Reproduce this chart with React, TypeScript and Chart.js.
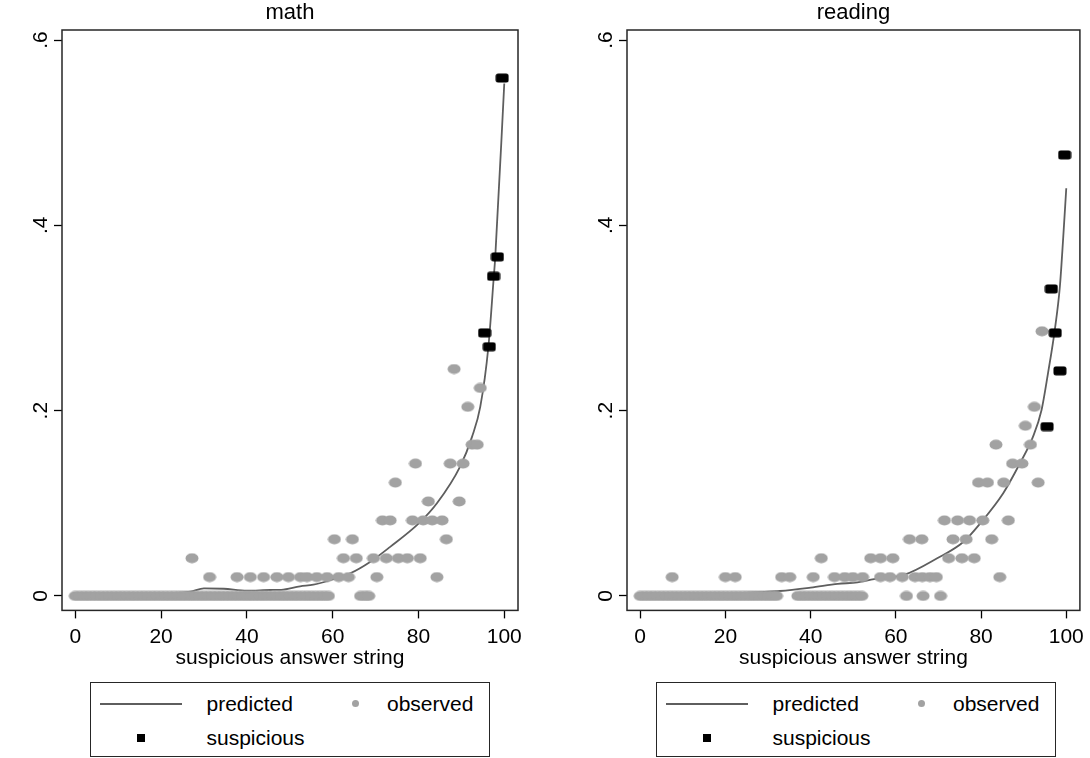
import React, { useEffect, useRef } from 'react';
import { Chart, registerables } from 'chart.js';

Chart.register(...registerables);

// ---------- data ----------
const xTickValues = [0, 20, 40, 60, 80, 100];
const xTickLabels = ['0', '20', '40', '60', '80', '100'];
const yTickValues = [0, 0.2, 0.4, 0.6];
const yTickLabels = ['0', '.2', '.4', '.6'];
const xAxisTitle = 'suspicious answer string';
const panelTitles = ['math', 'reading'];
const legendLabels = ['predicted', 'observed', 'suspicious'];

// math: predicted curve
const mathPredictedX = [0, 10, 20, 26.8, 30, 34.6, 40, 45.5, 48, 52.4, 55.5, 60, 64.1, 68.8, 73.4, 80, 84.3, 89.7, 92.5, 94.4, 96.3, 97.5, 97.9, 100];
const mathPredictedY = [0.0005, 0.001, 0.0025, 0.0046, 0.0083, 0.0078, 0.0057, 0.0065, 0.0067, 0.0105, 0.0122, 0.018, 0.0245, 0.037, 0.053, 0.078, 0.1, 0.1396, 0.172, 0.204, 0.269, 0.341, 0.366, 0.553];

// math: observed, grouped by level
const mathObsLevels = [0, 0.0204, 0.0408, 0.0612, 0.0816, 0.102, 0.1224, 0.1429, 0.1633, 0.2041, 0.2245, 0.2449];
const mathObsXs = [
  [0, 1, 2, 3, 4, 5, 6, 7, 8, 9, 10, 11, 12, 13, 14, 15, 16, 17, 18, 19, 20, 21, 22, 23, 24, 25, 26, 27, 28, 29, 30, 31, 32, 33, 34, 35, 36, 37, 38, 39, 40, 41, 42, 43, 44, 45, 46, 47, 48, 49, 50, 51, 52, 53, 54, 55, 56, 57, 58, 59, 66.5, 67.5, 68.4],
  [31.3, 37.7, 40.8, 43.9, 47, 49.7, 52.5, 54, 56.3, 58.7, 61.4, 63.7, 70.3, 84.3],
  [27.2, 62.5, 65.5, 69.5, 72.5, 75.3, 77.4, 80.4],
  [60.4, 64.6, 86.5],
  [71.6, 73.4, 78.6, 81.1, 83.2, 85.5],
  [82.3, 89.5],
  [74.6],
  [79.3, 87.4, 90.4],
  [92.5, 93.7],
  [91.5],
  [94.4],
  [88.3],
];

// math: suspicious
const mathSuspiciousX = [95.4, 96.5, 97.5, 98.4, 99.5];
const mathSuspiciousY = [0.284, 0.269, 0.345, 0.366, 0.559];

// reading: predicted curve
const readingPredictedX = [0, 10, 20, 32.8, 40, 46.4, 51, 54.9, 61.9, 69.7, 75.9, 79.8, 85.2, 89.1, 92.2, 94.2, 95.7, 97.3, 98.5, 99.3, 100];
const readingPredictedY = [0.0005, 0.0012, 0.0025, 0.0054, 0.009, 0.013, 0.0148, 0.0183, 0.0227, 0.0407, 0.0586, 0.0784, 0.111, 0.143, 0.172, 0.2008, 0.24, 0.287, 0.334, 0.388, 0.44];

// reading: observed, grouped by level
const readingObsLevels = [0, 0.0204, 0.0408, 0.0612, 0.0816, 0.1224, 0.1429, 0.1633, 0.1837, 0.2041, 0.2857];
const readingObsXs = [
  [0, 1, 2, 3, 4, 5, 6, 7, 8, 9, 10, 11, 12, 13, 14, 15, 16, 17, 18, 19, 20, 21, 22, 23, 24, 25, 26, 27, 28, 29, 30, 31, 32, 37, 38, 39, 40, 41, 42, 43, 44, 45, 46, 47, 48, 49, 50, 51, 52, 62.5, 66.4, 70.5],
  [7.5, 20, 22.3, 33.2, 35.1, 40.6, 45.6, 48, 49.9, 52.2, 56.4, 58.6, 61.5, 64.5, 66.2, 68, 69.5, 84.4],
  [42.5, 54.1, 56.4, 59.3, 72.4, 75.5, 78.4],
  [63.2, 66.1, 73.4, 76.5, 82.5],
  [71.4, 74.5, 77.3, 80.4, 86.4],
  [79.4, 81.5, 85.3, 93.4],
  [87.4, 89.6],
  [83.5, 91.6],
  [90.4],
  [92.5],
  [94.3],
];

// reading: suspicious
const readingSuspiciousX = [95.5, 96.5, 97.4, 98.5, 99.6];
const readingSuspiciousY = [0.1828, 0.3314, 0.284, 0.243, 0.476];

// ---------- styling ----------
const FONT = '"Liberation Sans", Arial, Helvetica, sans-serif';
const LINE_COLOR = '#5e5e5e';
const DOT_COLOR = '#a2a2a2';
const FRAME_COLOR = '#262626';

function makeDot(): HTMLCanvasElement {
  const c = document.createElement('canvas');
  c.width = 14; c.height = 11;
  const g = c.getContext('2d')!;
  g.fillStyle = DOT_COLOR;
  g.beginPath();
  g.ellipse(7, 5.5, 6.5, 5, 0, 0, Math.PI * 2);
  g.fill();
  return c;
}

function makeSquare(): HTMLCanvasElement {
  const c = document.createElement('canvas');
  c.width = 14; c.height = 10;
  const g = c.getContext('2d')!;
  g.fillStyle = '#000';
  g.beginPath();
  const r = 2.5, w = 13, h = 9, x0 = 0.5, y0 = 0.5;
  g.moveTo(x0 + r, y0);
  g.lineTo(x0 + w - r, y0); g.quadraticCurveTo(x0 + w, y0, x0 + w, y0 + r);
  g.lineTo(x0 + w, y0 + h - r); g.quadraticCurveTo(x0 + w, y0 + h, x0 + w - r, y0 + h);
  g.lineTo(x0 + r, y0 + h); g.quadraticCurveTo(x0, y0 + h, x0, y0 + h - r);
  g.lineTo(x0, y0 + r); g.quadraticCurveTo(x0, y0, x0 + r, y0);
  g.fill();
  return c;
}

type PanelProps = {
  title: string;
  canvasLeft: number;
  canvasWidth: number;
  plotRight: number;
  predX: number[];
  predY: number[];
  obsLevels: number[];
  obsXs: number[][];
  suspX: number[];
  suspY: number[];
};

const CANVAS_H = 671;
const PLOT_TOP = 30;
const Y_AXIS_W = 62;
const X_AXIS_H = 60.6;

function Panel(p: PanelProps) {
  const ref = useRef<HTMLCanvasElement | null>(null);
  useEffect(() => {
    const canvas = ref.current!;
    const dot = makeDot();
    const sq = makeSquare();
    const obs: { x: number; y: number }[] = [];
    p.obsXs.forEach((row, i) => row.forEach((x) => obs.push({ x, y: p.obsLevels[i] })));
    const pred = p.predX.map((x, i) => ({ x, y: p.predY[i] }));
    const susp = p.suspX.map((x, i) => ({ x, y: p.suspY[i] }));

    const decor = {
      id: 'decor',
      afterDatasetsDraw(chart: any) {
        const { ctx, chartArea, scales } = chart;
        ctx.save();
        ctx.strokeStyle = FRAME_COLOR;
        ctx.lineWidth = 1.5;
        ctx.strokeRect(chartArea.left, chartArea.top, chartArea.right - chartArea.left, chartArea.bottom - chartArea.top);
        ctx.fillStyle = '#000';
        ctx.font = `21px ${FONT}`;
        ctx.textAlign = 'center';
        ctx.textBaseline = 'middle';
        yTickValues.forEach((v, i) => {
          const y = scales.y.getPixelForValue(v);
          ctx.save();
          ctx.translate(chartArea.left - 21, y);
          ctx.rotate(-Math.PI / 2);
          ctx.fillText(yTickLabels[i], 0, 0);
          ctx.restore();
        });
        ctx.font = `22px ${FONT}`;
        ctx.fillText(p.title, (chartArea.left + chartArea.right) / 2, 13);
        ctx.restore();
      },
    };

    const chart = new Chart(canvas, {
      type: 'scatter',
      data: {
        datasets: [
          { label: legendLabels[2], data: susp, pointStyle: sq as any, pointRadius: 5, order: 1 } as any,
          { label: legendLabels[1], data: obs, pointStyle: dot as any, pointRadius: 5, order: 2 } as any,
          {
            label: legendLabels[0], type: 'line', data: pred, borderColor: LINE_COLOR, borderWidth: 1.8,
            pointRadius: 0, cubicInterpolationMode: 'monotone', fill: false, order: 3,
          } as any,
        ],
      },
      options: {
        responsive: false,
        animation: false,
        events: [],
        layout: { padding: { left: 0, top: PLOT_TOP, right: p.canvasWidth - p.plotRight, bottom: 0 } },
        plugins: { legend: { display: false }, tooltip: { enabled: false }, title: { display: false } },
        scales: {
          x: {
            type: 'linear',
            min: -3.1,
            max: 103.2,
            afterBuildTicks: (s: any) => { s.ticks = xTickValues.map((v) => ({ value: v })); },
            afterFit: (s: any) => { s.height = X_AXIS_H; },
            ticks: {
              callback: (v: any) => { const i = xTickValues.indexOf(Number(v)); return i >= 0 ? xTickLabels[i] : ''; },
              font: { family: FONT, size: 21 },
              color: '#000',
              padding: 6,
              maxRotation: 0,
              minRotation: 0,
              autoSkip: false,
            },
            grid: { display: true, drawOnChartArea: false, drawTicks: true, tickLength: 8, tickColor: '#000', tickWidth: 1.3 },
            border: { display: false },
            title: { display: true, text: xAxisTitle, font: { family: FONT, size: 21 }, color: '#000', padding: { top: 0, bottom: 0 } },
          },
          y: {
            type: 'linear',
            min: -0.01554,
            max: 0.6108,
            afterBuildTicks: (s: any) => { s.ticks = yTickValues.map((v) => ({ value: v })); },
            afterFit: (s: any) => { s.width = Y_AXIS_W; },
            ticks: { display: false },
            grid: { display: true, drawOnChartArea: false, drawTicks: true, tickLength: 8, tickColor: '#000', tickWidth: 1.3 },
            border: { display: false },
          },
        },
      } as any,
      plugins: [decor],
    });
    return () => chart.destroy();
  }, []);
  return (
    <canvas
      ref={ref}
      width={p.canvasWidth}
      height={CANVAS_H}
      style={{ position: 'absolute', left: p.canvasLeft, top: 0, width: p.canvasWidth, height: CANVAS_H }}
    />
  );
}

function Legend({ left }: { left: number }) {
  const text: React.CSSProperties = {
    position: 'absolute', fontFamily: FONT, fontSize: 21, lineHeight: '24px', height: 24, color: '#000', whiteSpace: 'nowrap',
  };
  return (
    <div
      style={{
        position: 'absolute', left, top: 682, width: 400, height: 75, boxSizing: 'border-box',
        border: `1.5px solid ${FRAME_COLOR}`, background: '#fff',
      }}
    >
      <div style={{ position: 'absolute', left: 9, top: 19.5, width: 82, height: 2, background: LINE_COLOR }} />
      <div style={{ ...text, left: 115.5, top: 8.5 }}>{legendLabels[0]}</div>
      <div style={{ position: 'absolute', left: 261, top: 16.5, width: 7, height: 7, borderRadius: '50%', background: DOT_COLOR }} />
      <div style={{ ...text, left: 296, top: 8.5 }}>{legendLabels[1]}</div>
      <div style={{ position: 'absolute', left: 46, top: 51, width: 8, height: 8, background: '#000' }} />
      <div style={{ ...text, left: 115.5, top: 42.5 }}>{legendLabels[2]}</div>
    </div>
  );
}

export default function App() {
  return (
    <div style={{ position: 'absolute', left: 0, top: 0, width: 1090, height: 758, background: '#fff', overflow: 'hidden' }}>
      <Panel
        title={panelTitles[0]} canvasLeft={0} canvasWidth={545} plotRight={518}
        predX={mathPredictedX} predY={mathPredictedY}
        obsLevels={mathObsLevels} obsXs={mathObsXs}
        suspX={mathSuspiciousX} suspY={mathSuspiciousY}
      />
      <Panel
        title={panelTitles[1]} canvasLeft={565} canvasWidth={525} plotRight={518}
        predX={readingPredictedX} predY={readingPredictedY}
        obsLevels={readingObsLevels} obsXs={readingObsXs}
        suspX={readingSuspiciousX} suspY={readingSuspiciousY}
      />
      <Legend left={90} />
      <Legend left={656} />
    </div>
  );
}
